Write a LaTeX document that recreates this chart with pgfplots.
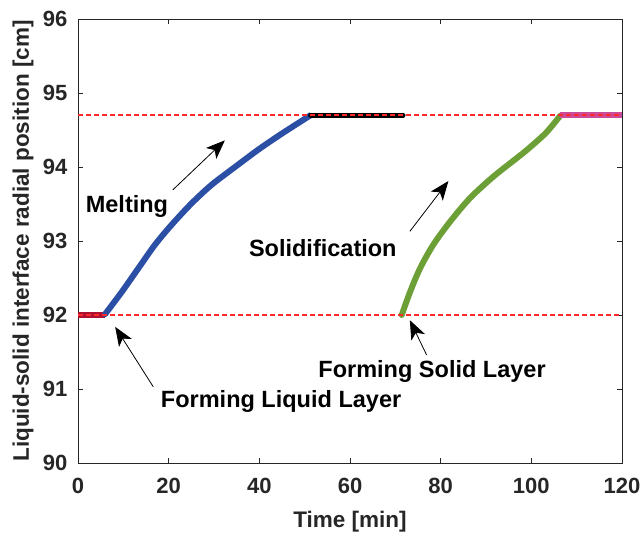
\documentclass[border=0pt]{standalone}
\usepackage{pgfplots}
\pgfplotsset{compat=1.18}
\usepackage{fontspec}
\setmainfont{Liberation Sans}
\usetikzlibrary{calc,arrows.meta}
\definecolor{cRed}{HTML}{B01030}
\definecolor{cBlue}{HTML}{2C4FA6}
\definecolor{cGreen}{HTML}{6C9F36}
\definecolor{cMag}{HTML}{CC4A9A}
\definecolor{cDash}{HTML}{FF2A2A}
\definecolor{cAx}{HTML}{262626}
\begin{document}
\begin{tikzpicture}
\begin{axis}[
  scale only axis, width=544pt, height=444pt,
  xmin=0, xmax=120, ymin=90, ymax=96,
  xtick={0,20,...,120}, ytick={90,91,...,96},
  tick align=inside, tick pos=both,
  major tick length=5pt,
  axis line style={cAx, line width=0.8pt},
  every tick/.style={cAx, line width=0.8pt},
  /pgf/number format/assume math mode=true,
  tick label style={font=\fontsize{22}{26}\selectfont\bfseries, text=cAx},
  xticklabel style={yshift=-12pt},
  yticklabel style={xshift=-7pt},
  every axis x label/.style={at={(axis description cs:0.5,0)}, anchor=center, yshift=-59pt,
     font=\fontsize{22.5}{26}\selectfont\bfseries, text=cAx},
  every axis y label/.style={at={(axis description cs:0,0.5)}, anchor=center, xshift=-55pt, rotate=90,
     font=\fontsize{22.5}{26}\selectfont\bfseries, text=cAx},
  xlabel={Time [min]},
  ylabel={Liquid-solid interface radial position [cm]},
  clip=false,
]
\addplot[cRed, line width=5.5pt] coordinates {(0,92) (6,92)};
\addplot[cBlue, line width=6pt, line cap=round, smooth, tension=0.5] coordinates {
(5.96,92.01) (9.64,92.31) (13.30,92.63) (16.99,92.95) (20.67,93.22) (25.08,93.51)
(29.49,93.76) (34.63,94.00) (39.78,94.235) (44.94,94.45) (50.8,94.68) (51.3,94.7)};
\addplot[black, line width=5pt, line cap=round] coordinates {(51.3,94.7) (71.7,94.7)};
\addplot[cGreen, line width=6pt, line cap=round, smooth, tension=0.5] coordinates {
(71.41,92.0) (73.24,92.31) (75.45,92.63) (78.38,92.95) (82.06,93.26) (86.48,93.58)
(91.62,93.87) (96.78,94.12) (99.3,94.245) (103.2,94.46) (106.33,94.69)};
\addplot[cMag, line width=5.5pt] coordinates {(106.3,94.7) (120,94.7)};
\addplot[draw=cDash, line width=1.4pt, dash pattern=on 5pt off 3pt] coordinates {(0,92) (120,92)};
\addplot[draw=cDash, line width=1.4pt, dash pattern=on 5pt off 3pt] coordinates {(0,94.7) (120,94.7)};
\tikzset{ann/.style={black, line width=0.8pt, -{Stealth[length=19pt,width=15pt,inset=5pt]}},
  lbl/.style={font=\fontsize{23.5}{27}\selectfont\bfseries, text=black}}
\draw[ann] (axis cs:20.9,93.69) -- (axis cs:32.4,94.36);
\draw[ann] (axis cs:73.2,93.13) -- (axis cs:81.7,93.81);
\draw[ann] (axis cs:16.6,91.03) -- (axis cs:8.2,91.84);
\draw[ann] (axis cs:76.9,91.46) -- (axis cs:73.2,91.93);
\node[lbl] at (axis cs:10.8,93.46) {Melting};
\node[lbl] at (axis cs:54.0,92.9) {Solidification};
\node[lbl] at (axis cs:44.8,90.83) {Forming Liquid Layer};
\node[lbl] at (axis cs:78.1,91.23) {Forming Solid Layer};
\end{axis}
\pgfresetboundingbox
\path[use as bounding box] ($(current axis.south west)+(-78pt,-78pt)$) rectangle ($(current axis.north east)+(19pt,19pt)$);
\end{tikzpicture}
\end{document}
